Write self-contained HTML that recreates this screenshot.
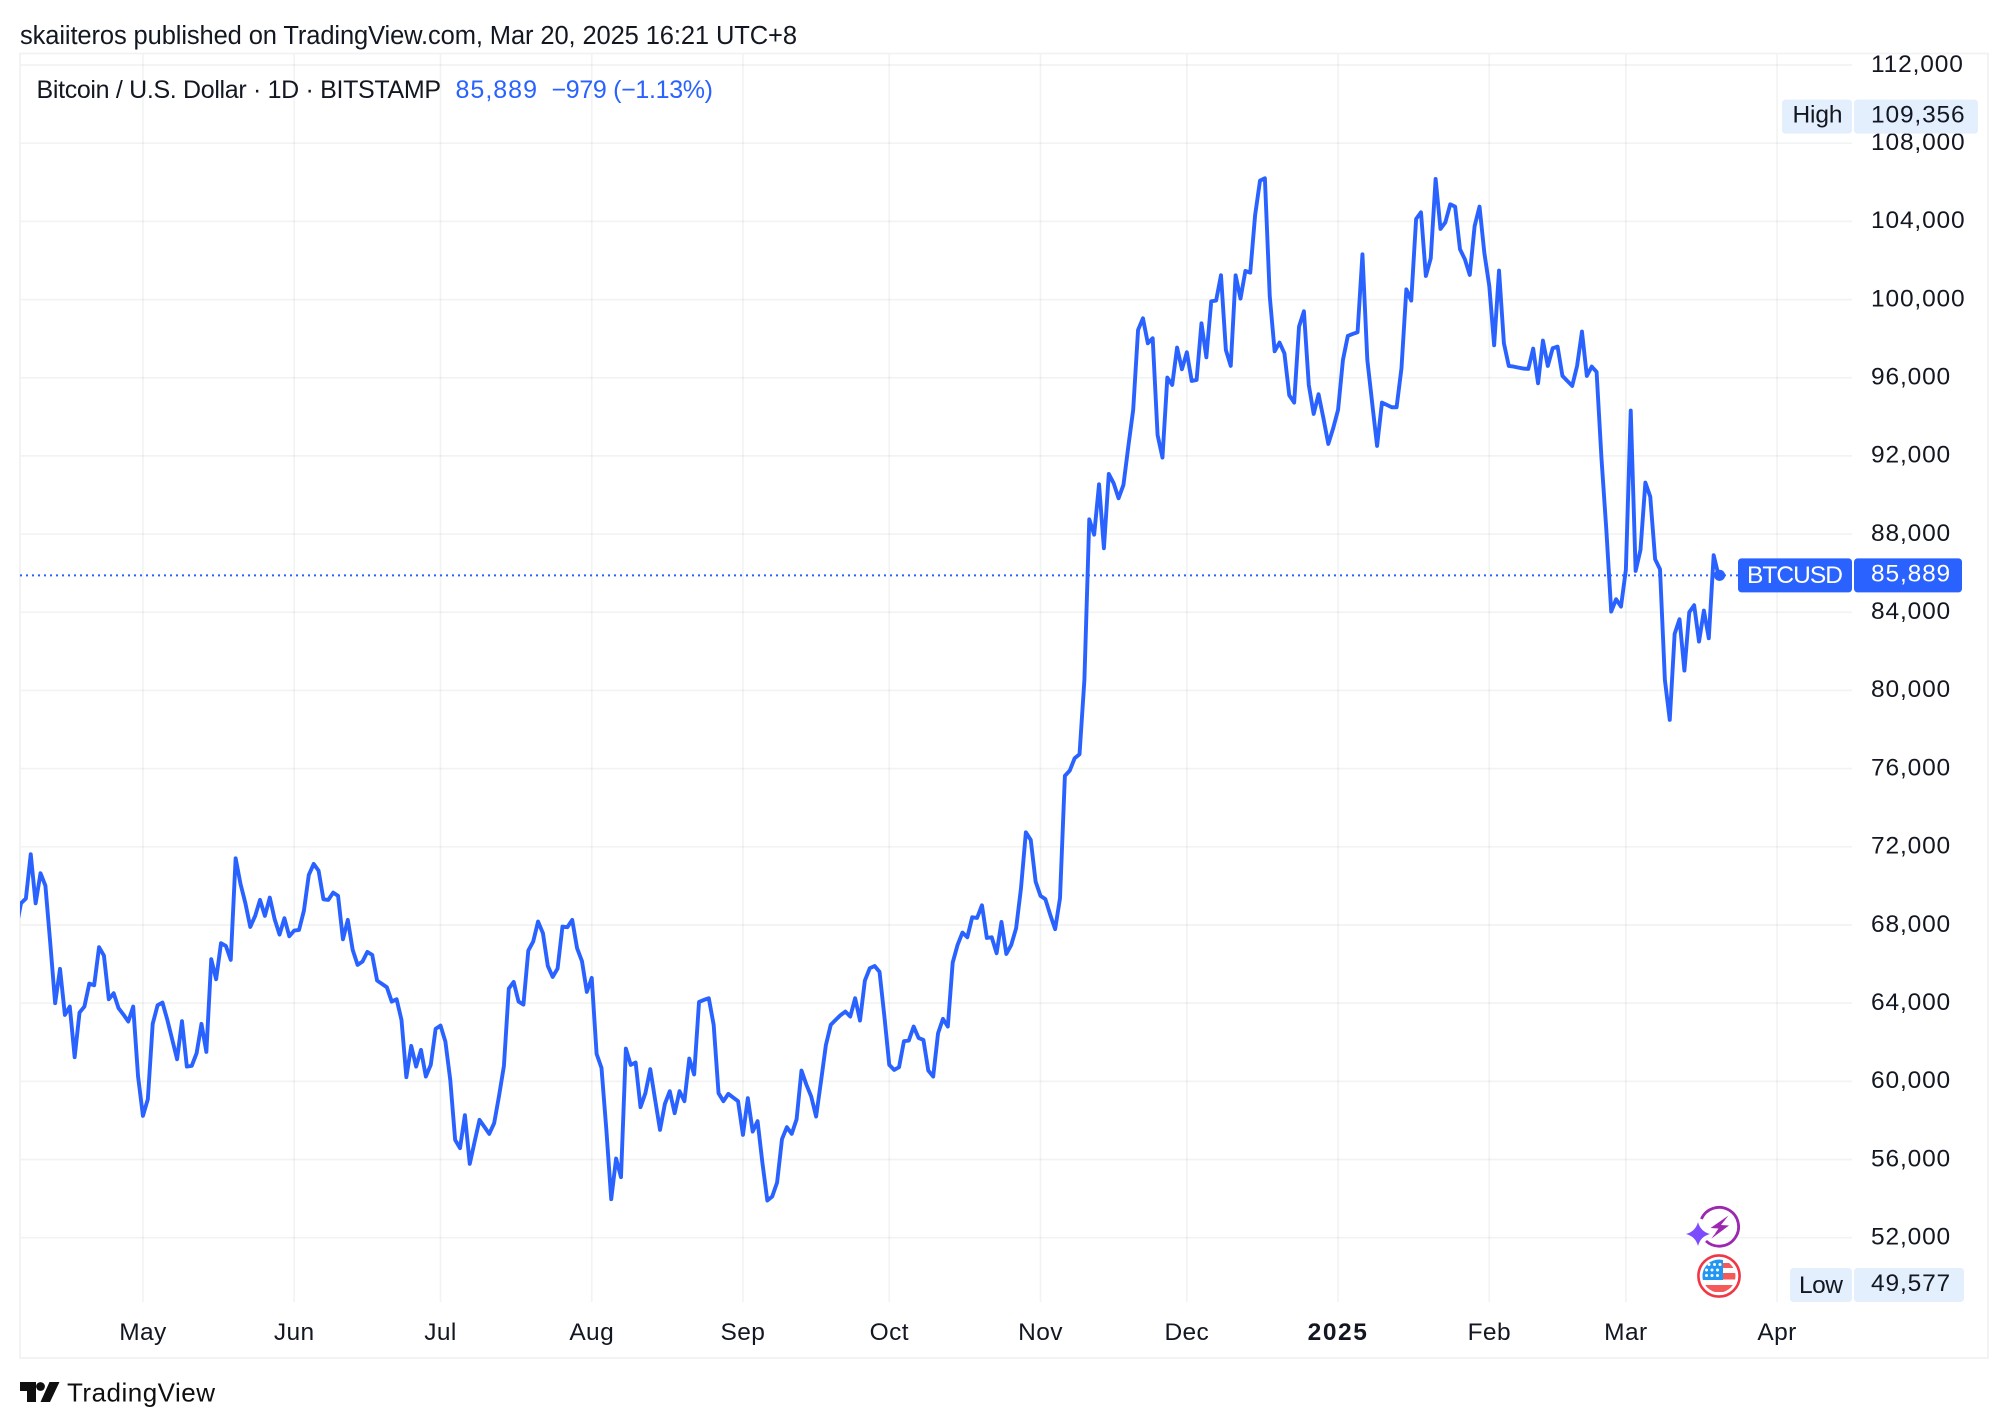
<!DOCTYPE html>
<html lang="en">
<head>
<meta charset="utf-8">
<title>Bitcoin / U.S. Dollar chart</title>
<style>
  html, body { margin: 0; padding: 0; background: #ffffff; }
  svg { display: block; font-family: "Liberation Sans", sans-serif; }
  text { fill: #131722; }
</style>
</head>
<body>
<svg id="chart" xmlns="http://www.w3.org/2000/svg" width="2008" height="1428" viewBox="0 0 2008 1428">
  <rect x="0" y="0" width="2008" height="1428" fill="#ffffff"/>
  <text x="20" y="44" font-size="25.5" textLength="777" lengthAdjust="spacing">skaiiteros published on TradingView.com, Mar 20, 2025 16:21 UTC+8</text>
  <g id="grid"></g>
  <rect x="20" y="53.5" width="1968" height="1304.5" fill="none" stroke="#f2f2f2" stroke-width="1.8"/>
  <g id="ticks"></g>
  <line id="last-line" x1="20" x2="1738" stroke="#2962ff" stroke-width="2" stroke-dasharray="2 4"/>
  <path id="price-line" fill="none" stroke="#2962ff" stroke-width="3.9" stroke-linejoin="round" stroke-linecap="round" clip-path="url(#pane-clip)"/>
  <circle id="last-dot" r="5.6" fill="#2962ff"/>
  <defs>
    <clipPath id="pane-clip"><rect x="20" y="54" width="1832" height="1248"/></clipPath>
    <clipPath id="flag-clip"><circle cx="1719" cy="1276" r="16.5"/></clipPath>
  </defs>

  <g>
    <text x="36.5" y="98" font-size="25" textLength="404.5" lengthAdjust="spacing">Bitcoin / U.S. Dollar · 1D · BITSTAMP</text>
    <text x="455.5" y="98" font-size="25" textLength="81.5" lengthAdjust="spacing" style="fill:#2962ff">85,889</text>
    <text x="551.5" y="98" font-size="25" textLength="161.5" lengthAdjust="spacing" style="fill:#2962ff">−979 (−1.13%)</text>
  </g>

  <g id="labels"></g>

  <g>
    <path d="M1701.4 1219 A19.4 19.4 0 1 1 1706 1241" fill="none" stroke="#9c27b0" stroke-width="2.8"/>
    <polygon points="1728.5,1215.5 1710.5,1228 1718.5,1228.5 1711.5,1238.5 1729,1225.5 1721,1225" fill="#9c27b0"/>
    <path d="M1698 1222 Q1700.5 1231.5 1710 1234 Q1700.5 1236.5 1698 1246 Q1695.5 1236.5 1686 1234 Q1695.5 1231.5 1698 1222 Z" fill="#7c4dff" stroke="#ffffff" stroke-width="3" paint-order="stroke"/>
  </g>

  <g>
    <circle cx="1719" cy="1276" r="20.6" fill="#ffffff" stroke="#f23645" stroke-width="2.6"/>
    <g clip-path="url(#flag-clip)">
      <rect x="1700" y="1258" width="38" height="36" fill="#ffffff"/>
      <rect x="1723" y="1263" width="14" height="5" fill="#f55a5a"/>
      <rect x="1700" y="1273" width="38" height="6.5" fill="#f55a5a"/>
      <rect x="1700" y="1285" width="38" height="7" fill="#f55a5a"/>
      <rect x="1700" y="1258" width="23" height="22" fill="#2196f3"/>
      <g fill="#ffffff">
        <circle cx="1709" cy="1264.5" r="1.5"/><circle cx="1714.5" cy="1264.5" r="1.5"/><circle cx="1720" cy="1264.5" r="1.5"/>
        <circle cx="1706.5" cy="1270" r="1.5"/><circle cx="1712" cy="1270" r="1.5"/><circle cx="1717.5" cy="1270" r="1.5"/>
        <circle cx="1706.5" cy="1275.5" r="1.5"/><circle cx="1712" cy="1275.5" r="1.5"/><circle cx="1717.5" cy="1275.5" r="1.5"/>
      </g>
    </g>
  </g>

  <g>
    <path d="M20 1382 H36 V1402 H27 V1391 H20 Z" fill="#0f0f0f"/>
    <circle cx="40.5" cy="1386.5" r="4.4" fill="#0f0f0f"/>
    <polygon points="49.5,1382 59.5,1382 50,1402 40.5,1402" fill="#0f0f0f"/>
    <text x="67" y="1401.5" font-size="26" textLength="148" lengthAdjust="spacing" style="fill:#0f0f0f">TradingView</text>
  </g>
</svg>

<script>
const startDate = '2024-04-05';
const closes = [
  67800,69112,69350,71618,69112,70646,70015,67066,63997,65753,
  63400,63826,61234,63519,63826,65002,64917,66861,66435,64201,
  64508,63741,63417,63059,63826,60245,58234,59086,62940,63894,
  64031,63144,62138,61132,63076,60757,60791,61439,62940,61507,
  66247,65224,67066,66929,66213,71413,70100,69112,67901,68464,
  69282,68464,69401,68293,67509,68344,67424,67713,67747,68736,
  70560,71123,70782,69316,69282,69657,69487,67270,68259,66725,
  65957,66128,66622,66469,65156,64985,64815,64082,64201,63144,
  60211,61814,60757,61610,60246,60842,62684,62854,62036,60075,
  57006,56580,58268,55778,56921,58029,57671,57313,57858,59257,
  60791,64747,65088,64082,63928,66690,67151,68174,67577,65906,
  65343,65770,67918,67884,68259,66810,66145,64576,65292,61405,
  60689,57517,53971,56051,55096,61678,60842,60962,58677,59393,
  60621,59052,57517,58847,59495,58370,59495,58984,61166,60348,
  64065,64167,64252,62888,59393,58984,59359,59171,58984,57262,
  59137,57432,57961,55813,53903,54107,54824,57040,57654,57313,
  58063,60552,59836,59222,58200,60000,61850,62888,63144,63383,
  63570,63315,64252,63110,65156,65787,65900,65599,63315,60842,
  60586,60723,62053,62087,62803,62223,62121,60552,60245,62462,
  63195,62803,66077,66980,67611,67372,68395,68361,69009,67338,
  67372,66554,68157,66520,66980,67833,69879,72743,72351,70220,
  69487,69320,68519,67786,69371,75629,75901,76532,76737,80539,
  88757,87973,90547,87274,91076,90598,89831,90513,92477,94352,
  98444,99041,97762,98018,93074,91914,96006,95631,97541,96433,
  97302,95836,95887,98785,97046,99911,99945,101241,97422,96603,
  101241,100047,101462,101377,104327,106083,106202,100150,97353,97797,
  97251,95103,94728,98615,99399,95631,94148,95154,93926,92613,
  93415,94353,96910,98138,98240,98325,102315,96910,94694,92511,
  94728,94608,94489,94489,96484,100525,99945,104122,104463,101207,
  102110,106168,103611,103952,104872,104753,102571,102059,101258,103764,
  104753,102366,100695,97660,101479,97762,96603,96569,96518,96467,
  96450,97490,95716,97899,96603,97507,97592,96092,95836,95580,
  96603,98359,96092,96569,96296,91878,88200,84035,84666,84291,
  86167,94316,86116,87190,90634,89917,86712,86201,80540,78494,
  82893,83643,81017,84001,84360,82501,84087,82671,86917,85889
];
const priceTicks = [112000,108000,104000,100000,96000,92000,88000,84000,80000,76000,72000,68000,64000,60000,56000,52000];
const monthLabels = ['May','Jun','Jul','Aug','Sep','Oct','Nov','Dec','2025','Feb','Mar','Apr'];
const monthDates = ['2024-05-01','2024-06-01','2024-07-01','2024-08-01','2024-09-01','2024-10-01','2024-11-01','2024-12-01','2025-01-01','2025-02-01','2025-03-01','2025-04-01'];
const highValue = 109356;
const lowValue = 49577;
const symbolName = 'BTCUSD';

const NS = 'http://www.w3.org/2000/svg';
function yScale(price) { return 65 + (112000 - price) * 0.019545; }
function xScale(dayIndex) { return 16.12 + dayIndex * 4.878; }
function dayOf(dateString) { return Math.round((Date.parse(dateString) - Date.parse(startDate)) / 86400000); }
function fmt(value) { return String(value).replace(/\B(?=(\d{3})+$)/g, ','); }

function make(tag, attrs, parent) {
  const el = document.createElementNS(NS, tag);
  Object.keys(attrs).forEach(function (k) { el.setAttribute(k, attrs[k]); });
  parent.appendChild(el);
  return el;
}

const grid = document.getElementById('grid');
const ticks = document.getElementById('ticks');
const labels = document.getElementById('labels');

priceTicks.forEach(function (p) {
  const line = make('line', { x1: 20, x2: 1852, y1: yScale(p), y2: yScale(p), stroke: 'rgba(42,46,57,0.06)', 'stroke-width': 1.7 }, grid);
  
  
  const label = make('text', { x: 1871, y: yScale(p) + 6.8, 'font-size': 24.5, 'letter-spacing': 0.85 }, ticks);
  label.textContent = fmt(p);
  
  
});

monthLabels.forEach(function (m, i) {
  const x = xScale(dayOf(monthDates[i]));
  const line = make('line', { x1: x, x2: x, y1: 54, y2: 1302, stroke: 'rgba(42,46,57,0.06)', 'stroke-width': 1.7 }, grid);
  
  
  const isYear = m === '2025';
  const label = make('text', { x: x, y: 1340, 'font-size': 24.5, 'text-anchor': 'middle', 'font-weight': isYear ? 700 : 400, 'letter-spacing': isYear ? 1.6 : 0.4 }, ticks);
  label.textContent = m;
  
  
});

const lineData = closes.map(function (c, i) {
  return (i ? 'L' : 'M') + xScale(i).toFixed(2) + ' ' + yScale(c).toFixed(2);
}).join(' ');
document.getElementById('price-line').setAttribute('d', lineData);

const lastValue = closes[closes.length - 1];
const lastY = yScale(lastValue);
const lastLine = document.getElementById('last-line');
lastLine.setAttribute('y1', lastY);
lastLine.setAttribute('y2', lastY);
const lastDot = document.getElementById('last-dot');
lastDot.setAttribute('cx', xScale(closes.length - 1) + 1);
lastDot.setAttribute('cy', lastY);

function badge(cfg) {
  const cy = yScale(cfg.value);
  const left = make('rect', { x: cfg.nameX, y: cy - 17, width: 1852 - cfg.nameX, height: 34, rx: 3.5, fill: cfg.bg }, labels);
  
  
  const right = make('rect', { x: 1854, y: cy - 17, width: cfg.valueEnd - 1854, height: 34, rx: 3.5, fill: cfg.bg }, labels);
  
  
  const name = make('text', { x: cfg.textX, y: cy + cfg.nameDy, 'font-size': 24.5, textLength: cfg.textW, lengthAdjust: 'spacing' }, labels);
  name.style.fill = cfg.fg;
  name.textContent = cfg.name;
  
  
  const val = make('text', { x: 1871, y: cy + 6, 'font-size': 24.5, 'letter-spacing': 0.85 }, labels);
  val.style.fill = cfg.fg;
  val.textContent = fmt(cfg.value);
  
  
}

badge({ value: highValue, name: 'High', nameX: 1782, valueEnd: 1978, textX: 1792.5, textW: 50, nameDy: 6, bg: '#e3effd', fg: '#131722' });
badge({ value: lowValue, name: 'Low', nameX: 1790, valueEnd: 1964, textX: 1799, textW: 44, nameDy: 8, bg: '#e3effd', fg: '#131722' });
badge({ value: lastValue, name: symbolName, nameX: 1738, valueEnd: 1962, textX: 1747, textW: 96, nameDy: 7.5, bg: '#2962ff', fg: '#ffffff' });
</script>
</body>
</html>
